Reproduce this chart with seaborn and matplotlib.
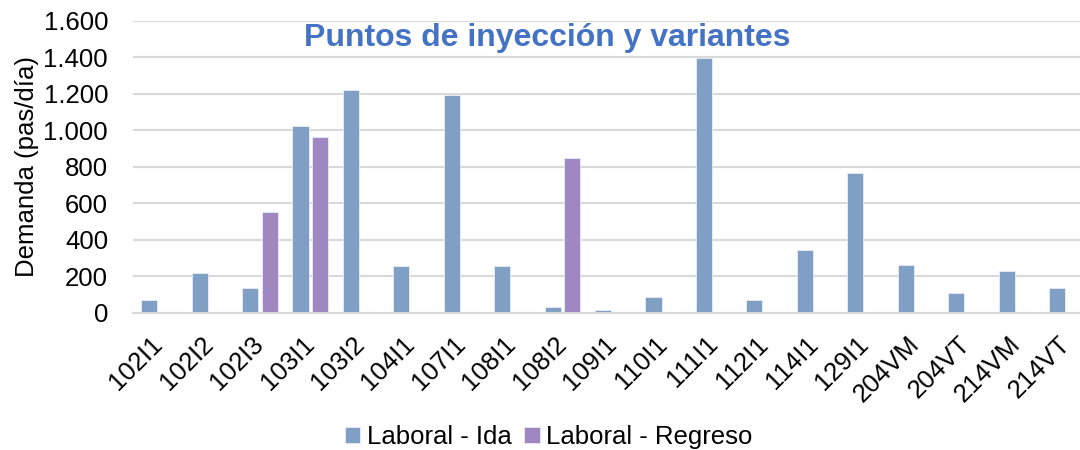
import pandas as pd
import numpy as np
import seaborn as sns
import matplotlib.pyplot as plt
from matplotlib.ticker import FuncFormatter

sns.set_style("white")
plt.rcParams['font.family'] = ['Liberation Sans', 'DejaVu Sans']
plt.rcParams.update({"text.color": "black", "axes.labelcolor": "black",
                     "xtick.color": "black", "ytick.color": "black"})

# data
rutas = ["102I1", "102I2", "102I3", "103I1", "103I2", "104I1", "107I1", "108I1", "108I2",
         "109I1", "110I1", "111I1", "112I1", "114I1", "129I1", "204VM", "204VT", "214VM", "214VT"]
ida = [70, 220, 133, 1025, 1222, 258, 1195, 258, 30,
       13, 84, 1397, 68, 343, 767, 263, 110, 227, 134]
regreso = [np.nan, np.nan, 550, 961, np.nan, np.nan, np.nan, np.nan, 849,
           np.nan, np.nan, np.nan, np.nan, np.nan, np.nan, np.nan, np.nan, np.nan, np.nan]
series = ["Laboral - Ida", "Laboral - Regreso"]
colores = ["#7F9FC4", "#9F87C1"]

df = pd.DataFrame({
    "Ruta": rutas * 2,
    "Serie": [series[0]] * len(rutas) + [series[1]] * len(rutas),
    "Demanda": ida + regreso,
})

fig = plt.figure(figsize=(10.8, 4.5), dpi=100)
ax = fig.add_axes([133 / 1080, 1 - 312.7 / 450, 1 - 133 / 1080, 292 / 450])

sns.barplot(data=df, x="Ruta", y="Demanda", hue="Serie", palette=colores, saturation=1,
            width=0.78, gap=0.18, ax=ax, edgecolor="#e8eef6", linewidth=0.6)

ax.set_ylim(0, 1600)
ax.set_xlim(-0.515, 18.26)
ax.set_yticks(range(0, 1601, 200))
ax.yaxis.set_major_formatter(FuncFormatter(lambda v, p: f"{int(v):,}".replace(",", ".")))
ax.grid(axis="y", color="#d9d9d9", linewidth=1.5)
ax.set_axisbelow(True)
for s in ["top", "right", "left"]:
    ax.spines[s].set_visible(False)
ax.spines["bottom"].set_color("#d9d9d9")
ax.spines["bottom"].set_linewidth(1.5)
ax.tick_params(axis="both", length=0, labelsize=18.5)
ax.tick_params(axis="y", pad=18)
plt.setp(ax.get_xticklabels(), rotation=45, ha="right", va="center", rotation_mode="anchor")
ax.tick_params(axis="x", pad=20)
ax.set_xlabel("")
ax.set_ylabel("Demanda (pas/día)", fontsize=18.5, labelpad=3)

fig.text(0.507, 1 - 38 / 450, "Puntos de inyección y variantes", ha="center", va="center",
         fontsize=23, fontweight="bold", color="#4472C4")

handles, labels = ax.get_legend_handles_labels()
ax.get_legend().remove()
fig.legend(handles, labels, loc="center", bbox_to_anchor=(0.508, 1 - 437 / 450), ncol=2,
           frameon=False, fontsize=18.5, handlelength=0.6, handleheight=0.6,
           handletextpad=0.25, columnspacing=0.5, borderaxespad=0)

fig.savefig("out.png", dpi=100)
